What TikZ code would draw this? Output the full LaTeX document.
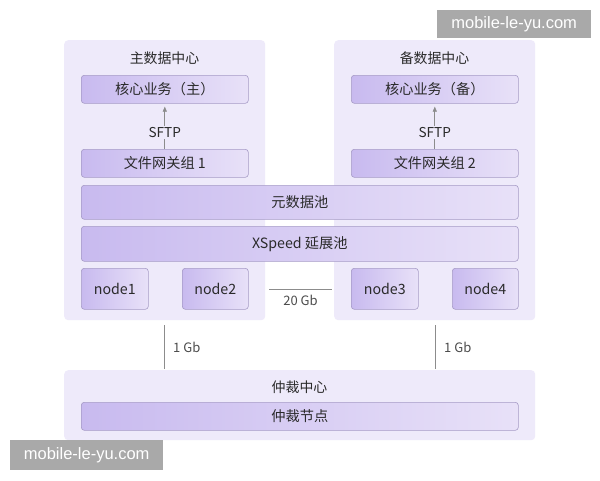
\documentclass[tikz,border=0pt]{standalone}
\usepackage{fontspec}
\setmainfont{Noto Sans CJK SC}
\newfontfamily\wmfont{Liberation Sans}
\usetikzlibrary{arrows.meta}
\definecolor{panelc}{HTML}{EEEAFA}
\definecolor{boxl}{HTML}{C8BAEF}
\definecolor{boxr}{HTML}{E8E1F8}
\definecolor{boxd}{HTML}{A69BC6}
\definecolor{txt}{HTML}{2A2A2A}
\definecolor{linec}{HTML}{8C8C8C}
\definecolor{wm}{HTML}{A9A9A9}
\begin{document}
\begin{tikzpicture}[x=1pt,y=-1pt,
  panel/.style={fill=panelc, draw=none, rounded corners=4pt, anchor=north west, inner sep=0pt},
  box/.style={draw=boxd, line width=0.6pt, left color=boxl, right color=boxr, rounded corners=3pt,
    anchor=north west, inner sep=0pt, text=txt, font=\fontsize{14.2}{16}\selectfont},
  title/.style={text=txt, font=\fontsize{13.9}{16}\selectfont, inner sep=1pt},
  lbl/.style={text=txt, font=\fontsize{13.6}{15}\selectfont, fill=panelc, inner sep=1.2pt},
  small/.style={text=black!70, font=\fontsize{13}{15}\selectfont, inner sep=1pt},
  conn/.style={draw=linec, line width=0.7pt},
  wmark/.style={fill=wm, text=white, font=\wmfont\fontsize{16.5}{18}\selectfont, inner sep=0pt, anchor=north west}
]
\useasboundingbox (0,0) rectangle (600,480);
\fill[white] (0,0) rectangle (600,480);

% panels
\node[panel, minimum width=201pt, minimum height=280pt] (pmain) at (64,40) {};
\node[panel, minimum width=201pt, minimum height=280pt] (pbak) at (334,40) {};
\node[panel, minimum width=471pt, minimum height=70pt] (parb) at (64,370) {};

% titles
\node[title] (tmain) at (164.5,58) {主数据中心};
\node[title] (tbak) at (434.5,58) {备数据中心};
\node[title] (tarb) at (299.5,387) {仲裁中心};

% boxes main
\node[box, minimum width=167pt, minimum height=28pt] (core1) at (81,75) {核心业务（主）};
\node[box, minimum width=167pt, minimum height=28pt] (gw1) at (81,149) {文件网关组 1};
% boxes backup
\node[box, minimum width=167pt, minimum height=28pt] (core2) at (351,75) {核心业务（备）};
\node[box, minimum width=167pt, minimum height=28pt] (gw2) at (351,149) {文件网关组 2};

% pools
\node[box, minimum width=437pt, minimum height=34pt] (meta) at (81,185) {元数据池};
\node[box, minimum width=437pt, minimum height=35pt] (xs) at (81,226) {XSpeed 延展池};

% nodes
\node[box, minimum width=67pt, minimum height=41pt] (n1) at (81,268) {node1};
\node[box, minimum width=66pt, minimum height=41pt] (n2) at (182,268) {node2};
\node[box, minimum width=67pt, minimum height=41pt] (n3) at (351,268) {node3};
\node[box, minimum width=66pt, minimum height=41pt] (n4) at (452,268) {node4};

% arbitration node
\node[box, minimum width=437pt, minimum height=28pt] (arbn) at (81,402) {仲裁节点};

% SFTP arrows
\draw[conn, -{Triangle[length=5pt,width=4pt]}, shorten >=3pt] (gw1.north) -- (core1.south)
  node[lbl, pos=0.37] (s1) {SFTP};
\draw[conn, -{Triangle[length=5pt,width=4pt]}, shorten >=3pt] (gw2.north) -- (core2.south)
  node[lbl, pos=0.37] (s2) {SFTP};

% 20 Gb link
\coordinate (l20a) at (269,289);
\coordinate (l20b) at (332,289);
\draw[conn] (l20a) -- (l20b);
\node[small] (g20) at (300.5,300) {20 Gb};

% 1 Gb links
\coordinate (a1) at (164,325);
\coordinate (b1) at (164,369);
\coordinate (a2) at (435,325);
\coordinate (b2) at (435,369);
\draw[conn] (a1) -- (b1);
\draw[conn] (a2) -- (b2);
\node[small, anchor=west] (g1a) at (172,347) {1 Gb};
\node[small, anchor=west] (g1b) at (443,347) {1 Gb};

% watermarks
\node[wmark, minimum width=154pt, minimum height=28pt] (wm1) at (437,10) {mobile-le-yu.com};
\node[wmark, minimum width=153pt, minimum height=30pt] (wm2) at (10,440) {mobile-le-yu.com};
\end{tikzpicture}
\end{document}
